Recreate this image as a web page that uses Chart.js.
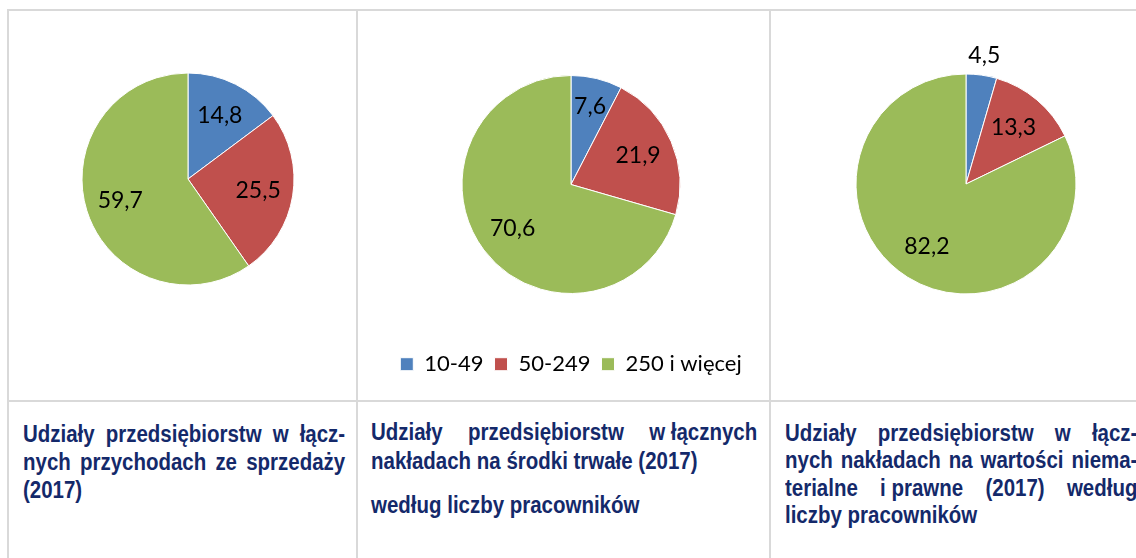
<!DOCTYPE html>
<html><head><meta charset="utf-8">
<script src="https://cdn.jsdelivr.net/npm/chart.js@4.4.0/dist/chart.umd.min.js"></script>
<style>
html,body{margin:0;padding:0;background:#fff;width:1136px;height:558px;overflow:hidden;position:relative}
.ln{position:absolute;background:#d9d9d9}
canvas{position:absolute}
.cap{position:absolute;font-family:'Liberation Sans',Arial,sans-serif;font-weight:bold;font-size:23px;line-height:28px;height:28px;color:#14296a;transform-origin:0 0;transform:scaleX(0.89);white-space:nowrap}
.j{display:flex;justify-content:space-between;column-gap:4px}
</style></head><body>
<div class="ln" style="left:7px;top:9px;width:1129px;height:2px"></div>
<div class="ln" style="left:7px;top:400px;width:1129px;height:2px"></div>
<div class="ln" style="left:7px;top:9px;width:2px;height:549px"></div>
<div class="ln" style="left:356px;top:9px;width:2px;height:549px"></div>
<div class="ln" style="left:769px;top:9px;width:2px;height:549px"></div>

<canvas id="c1" width="300" height="300" style="left:37.5px;top:29px"></canvas>
<canvas id="c2" width="400" height="386" style="left:371px;top:12px"></canvas>
<canvas id="c3" width="300" height="300" style="left:816px;top:34px"></canvas>

<div class="cap j" style="left:23px;top:420px;width:362px"><span>Udziały</span><span>przedsiębiorstw</span><span>w</span><span>łącz-</span></div>
<div class="cap j" style="left:23px;top:448px;width:362px"><span>nych</span><span>przychodach</span><span>ze</span><span>sprzedaży</span></div>
<div class="cap" style="left:23px;top:476px;width:362px">(2017)</div>

<div class="cap j" style="left:371px;top:418px;width:434px"><span>Udziały</span><span>przedsiębiorstw</span><span>w łącznych</span></div>
<div class="cap" style="left:371px;top:447px;width:434px">nakładach na środki trwałe (2017)</div>
<div class="cap" style="left:371px;top:491px;width:434px">według liczby pracowników</div>

<div class="cap j" style="left:785px;top:419px;width:396px"><span>Udziały</span><span>przedsiębiorstw</span><span>w</span><span>łącz-</span></div>
<div class="cap j" style="left:785px;top:446px;width:396px"><span>nych</span><span>nakładach</span><span>na</span><span>wartości</span><span>niema-</span></div>
<div class="cap j" style="left:785px;top:474px;width:396px"><span>terialne</span><span>i prawne</span><span>(2017)</span><span>według</span></div>
<div class="cap" style="left:785px;top:501px;width:396px">liczby pracowników</div>

<script>
const categories = ['10-49', '50-249', '250 i więcej'];
const salesShares = [14.8, 25.5, 59.7];
const fixedAssetShares = [7.6, 21.9, 70.6];
const intangibleShares = [4.5, 13.3, 82.2];
const sliceColors = ['#4f81bd', '#c0504d', '#9bbb59'];

const labelFont = '23px Lato';

const sliceLabels = {
  id: 'sliceLabels',
  afterDatasetsDraw(chart) {
    const ctx = chart.ctx;
    const meta = chart.getDatasetMeta(0);
    const data = chart.data.datasets[0].data;
    ctx.save();
    ctx.font = labelFont;
    ctx.fillStyle = '#000';
    ctx.textAlign = 'center';
    ctx.textBaseline = 'middle';
    meta.data.forEach((arc, i) => {
      const p = arc.getProps(['x', 'y', 'startAngle', 'endAngle', 'outerRadius'], true);
      const mid = (p.startAngle + p.endAngle) / 2;
      const v = data[i];
      let d;
      if (v < 5) d = p.outerRadius + 20;
      else if (v < 10) d = p.outerRadius * 0.74;
      else d = p.outerRadius * 0.67;
      ctx.fillText(v.toFixed(1).replace('.', ','), p.x + Math.cos(mid) * d, p.y + Math.sin(mid) * d);
    });
    ctx.restore();
  }
};

function makePie(id, values, radius, showLegend, padding) {
  return new Chart(document.getElementById(id), {
    type: 'pie',
    data: {
      labels: categories,
      datasets: [{ data: values, backgroundColor: sliceColors, borderColor: '#ffffff', borderWidth: 1, radius: radius }]
    },
    options: {
      responsive: false,
      animation: false,
      layout: { padding: padding },
      plugins: {
        tooltip: { enabled: false },
        legend: {
          display: showLegend,
          position: 'bottom',
          labels: {
            boxWidth: 13, boxHeight: 13, padding: 11, color: '#000',
            font: { family: 'Lato', size: 22 }
          }
        }
      }
    },
    plugins: [sliceLabels]
  });
}

makePie('c1', salesShares, 106, false, 0);
makePie('c2', fixedAssetShares, 109, true, { top: 14.8, bottom: 12.8, left: 0, right: 0 });
makePie('c3', intangibleShares, 110, false, 0);
</script>
</body></html>
